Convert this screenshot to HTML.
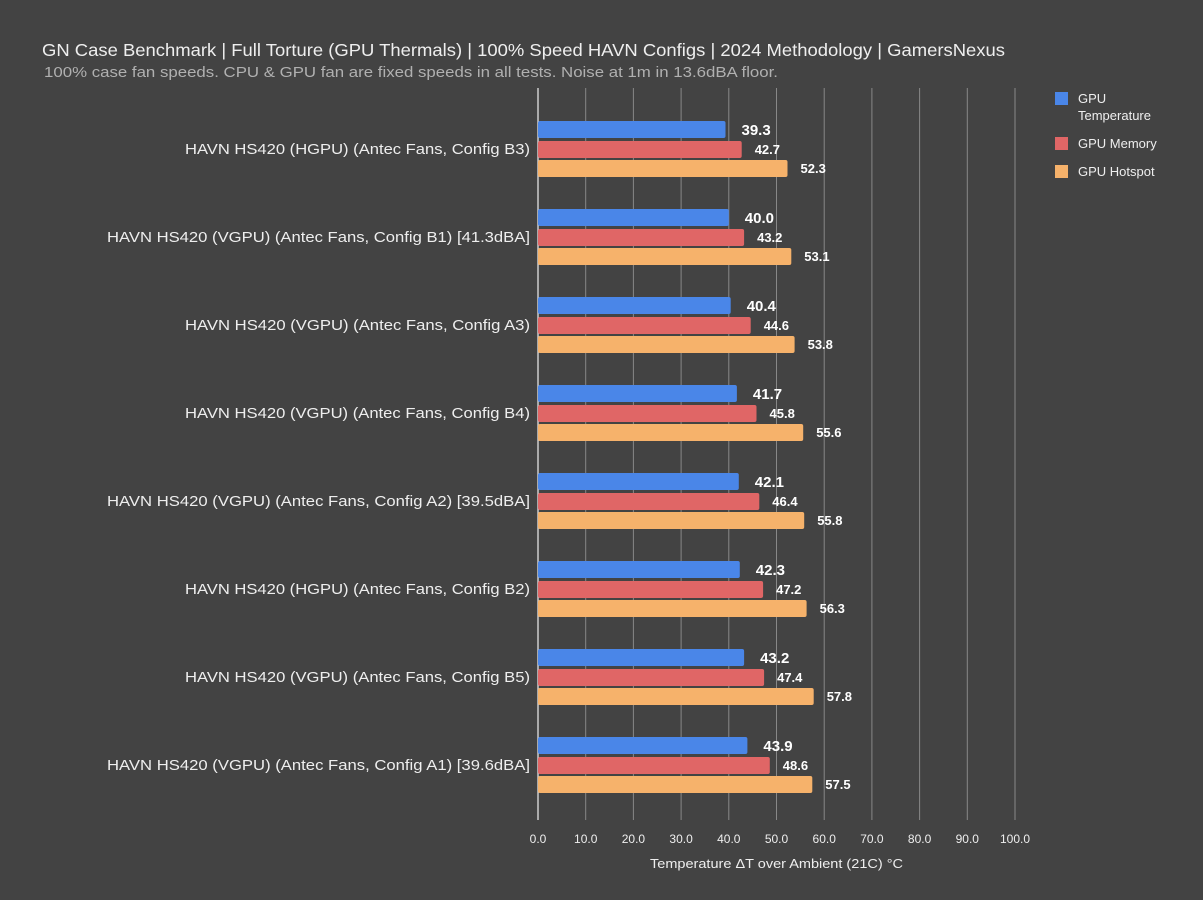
<!DOCTYPE html>
<html><head><meta charset="utf-8"><style>
html,body{margin:0;padding:0;background:#434343;}
svg{display:block;font-family:"Liberation Sans",Arial,sans-serif;}
</style></head><body>
<svg width="1203" height="900" viewBox="0 0 1203 900">
<rect width="1203" height="900" fill="#434343"/>
<text x="42" y="56" font-size="17.5" fill="#eeeeee" textLength="963" lengthAdjust="spacingAndGlyphs">GN Case Benchmark | Full Torture (GPU Thermals) | 100% Speed HAVN Configs | 2024 Methodology | GamersNexus</text>
<text x="44" y="77" font-size="14.5" fill="#b0b0b0" textLength="734" lengthAdjust="spacingAndGlyphs">100% case fan speeds. CPU &amp; GPU fan are fixed speeds in all tests. Noise at 1m in 13.6dBA floor.</text>
<g stroke="#888" stroke-width="1">
<line x1="585.7" y1="88" x2="585.7" y2="820"/><line x1="633.4" y1="88" x2="633.4" y2="820"/><line x1="681.1" y1="88" x2="681.1" y2="820"/><line x1="728.8" y1="88" x2="728.8" y2="820"/><line x1="776.5" y1="88" x2="776.5" y2="820"/><line x1="824.2" y1="88" x2="824.2" y2="820"/><line x1="871.9" y1="88" x2="871.9" y2="820"/><line x1="919.6" y1="88" x2="919.6" y2="820"/><line x1="967.3" y1="88" x2="967.3" y2="820"/><line x1="1015" y1="88" x2="1015" y2="820"/>
</g>
<line x1="538" y1="88" x2="538" y2="820" stroke="#eee" stroke-width="1.2"/>
<g font-size="12" fill="#eeeeee" text-anchor="middle">
<text x="538" y="843">0.0</text><text x="585.7" y="843">10.0</text><text x="633.4" y="843">20.0</text><text x="681.1" y="843">30.0</text><text x="728.8" y="843">40.0</text><text x="776.5" y="843">50.0</text><text x="824.2" y="843">60.0</text><text x="871.9" y="843">70.0</text><text x="919.6" y="843">80.0</text><text x="967.3" y="843">90.0</text><text x="1015" y="843">100.0</text>
</g>
<text x="650" y="868" font-size="13" fill="#eeeeee" textLength="253" lengthAdjust="spacingAndGlyphs">Temperature ΔT over Ambient (21C) °C</text>

<g font-size="14.5" fill="#eeeeee" lengthAdjust="spacingAndGlyphs">
<text x="185" y="154" textLength="345" lengthAdjust="spacingAndGlyphs">HAVN HS420 (HGPU) (Antec Fans, Config B3)</text>
<text x="107" y="242" textLength="423" lengthAdjust="spacingAndGlyphs">HAVN HS420 (VGPU) (Antec Fans, Config B1) [41.3dBA]</text>
<text x="185" y="330" textLength="345" lengthAdjust="spacingAndGlyphs">HAVN HS420 (VGPU) (Antec Fans, Config A3)</text>
<text x="185" y="418" textLength="345" lengthAdjust="spacingAndGlyphs">HAVN HS420 (VGPU) (Antec Fans, Config B4)</text>
<text x="107" y="506" textLength="423" lengthAdjust="spacingAndGlyphs">HAVN HS420 (VGPU) (Antec Fans, Config A2) [39.5dBA]</text>
<text x="185" y="594" textLength="345" lengthAdjust="spacingAndGlyphs">HAVN HS420 (HGPU) (Antec Fans, Config B2)</text>
<text x="185" y="682" textLength="345" lengthAdjust="spacingAndGlyphs">HAVN HS420 (VGPU) (Antec Fans, Config B5)</text>
<text x="107" y="770" textLength="423" lengthAdjust="spacingAndGlyphs">HAVN HS420 (VGPU) (Antec Fans, Config A1) [39.6dBA]</text>
</g>

<g fill="#4a86e8">
<rect x="538" y="121" width="187.5" height="17" rx="2"/>
<rect x="538" y="209" width="190.8" height="17" rx="2"/>
<rect x="538" y="297" width="192.7" height="17" rx="2"/>
<rect x="538" y="385" width="198.9" height="17" rx="2"/>
<rect x="538" y="473" width="200.8" height="17" rx="2"/>
<rect x="538" y="561" width="201.8" height="17" rx="2"/>
<rect x="538" y="649" width="206.1" height="17" rx="2"/>
<rect x="538" y="737" width="209.4" height="17" rx="2"/>
</g>
<g fill="#e06666">
<rect x="538" y="141" width="203.7" height="17" rx="2"/>
<rect x="538" y="229" width="206.1" height="17" rx="2"/>
<rect x="538" y="317" width="212.7" height="17" rx="2"/>
<rect x="538" y="405" width="218.5" height="17" rx="2"/>
<rect x="538" y="493" width="221.3" height="17" rx="2"/>
<rect x="538" y="581" width="225.1" height="17" rx="2"/>
<rect x="538" y="669" width="226.1" height="17" rx="2"/>
<rect x="538" y="757" width="231.8" height="17" rx="2"/>
</g>
<g fill="#f6b26b">
<rect x="538" y="160" width="249.5" height="17" rx="2"/>
<rect x="538" y="248" width="253.3" height="17" rx="2"/>
<rect x="538" y="336" width="256.6" height="17" rx="2"/>
<rect x="538" y="424" width="265.2" height="17" rx="2"/>
<rect x="538" y="512" width="266.2" height="17" rx="2"/>
<rect x="538" y="600" width="268.6" height="17" rx="2"/>
<rect x="538" y="688" width="275.7" height="17" rx="2"/>
<rect x="538" y="776" width="274.3" height="17" rx="2"/>
</g>
<g font-size="15" font-weight="bold" fill="#fff">
<text x="741.5" y="135">39.3</text>
<text x="744.8" y="223">40.0</text>
<text x="746.7" y="311">40.4</text>
<text x="752.9" y="399">41.7</text>
<text x="754.8" y="487">42.1</text>
<text x="755.8" y="575">42.3</text>
<text x="760.1" y="663">43.2</text>
<text x="763.4" y="751">43.9</text>
</g>
<g font-size="13" font-weight="bold" fill="#fff">
<text x="754.7" y="154">42.7</text>
<text x="757.1" y="242">43.2</text>
<text x="763.7" y="330">44.6</text>
<text x="769.5" y="418">45.8</text>
<text x="772.3" y="506">46.4</text>
<text x="776.1" y="594">47.2</text>
<text x="777.1" y="682">47.4</text>
<text x="782.8" y="770">48.6</text>
<text x="800.5" y="173">52.3</text>
<text x="804.3" y="261">53.1</text>
<text x="807.6" y="349">53.8</text>
<text x="816.2" y="437">55.6</text>
<text x="817.2" y="525">55.8</text>
<text x="819.6" y="613">56.3</text>
<text x="826.7" y="701">57.8</text>
<text x="825.3" y="789">57.5</text>
</g>
<g font-size="13">
<rect x="1055" y="92" width="13" height="13" fill="#4a86e8"/><text x="1078" y="103" fill="#eee">GPU</text><text x="1078" y="120" fill="#eee">Temperature</text>
<rect x="1055" y="137" width="13" height="13" fill="#e06666"/><text x="1078" y="148" fill="#eee">GPU Memory</text>
<rect x="1055" y="165" width="13" height="13" fill="#f6b26b"/><text x="1078" y="176" fill="#eee">GPU Hotspot</text>
</g>
</svg>
</body></html>
